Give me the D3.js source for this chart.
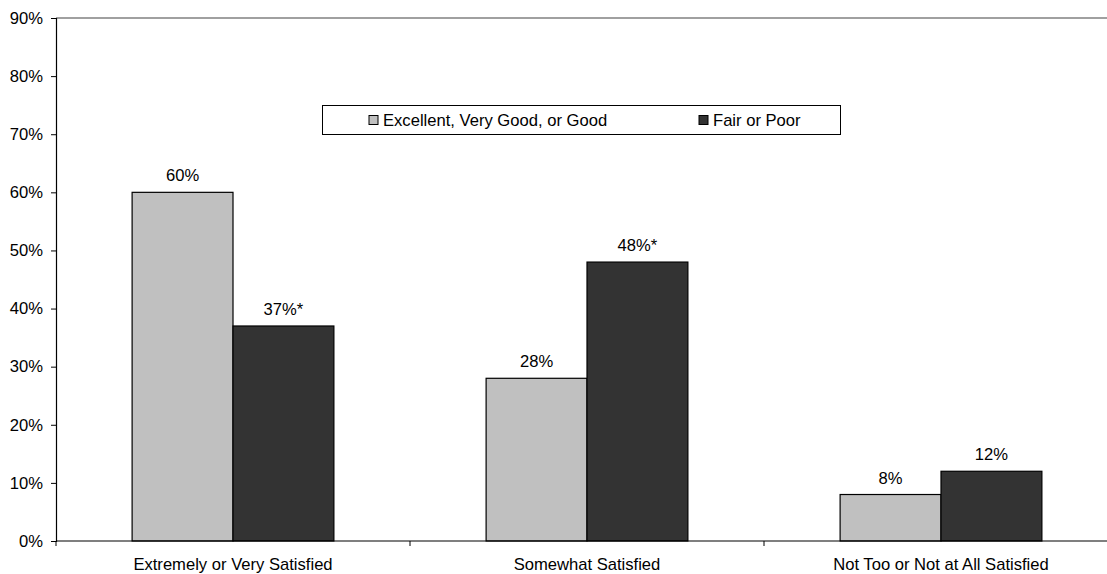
<!DOCTYPE html>
<html>
<head>
<meta charset="utf-8">
<script src="https://cdn.jsdelivr.net/npm/d3@7"></script>
<style>
  html, body { margin: 0; padding: 0; background: #fff; }
  svg { display: block; font-family: "Liberation Sans", Arial, sans-serif; }
</style>
</head>
<body>
<svg id="chart" width="1107" height="574"></svg>
<script>
// Satisfaction by self-rated health status
const categories = ["Extremely or Very Satisfied", "Somewhat Satisfied", "Not Too or Not at All Satisfied"];
const seriesNames = ["Excellent, Very Good, or Good", "Fair or Poor"];
const goodHealth = [60, 28, 8];
const fairPoor = [37, 48, 12];
const valueLabels = [["60%", "28%", "8%"], ["37%*", "48%*", "12%"]];
const yTicks = [0, 10, 20, 30, 40, 50, 60, 70, 80, 90];
const colors = ["#c0c0c0", "#333333"];

const fontSize = 16.6;
const svg = d3.select("#chart");
const plotLeft = 56, plotTop = 18, plotBottom = 541, plotRight = 1118;

const x = d3.scaleBand().domain(categories).range([plotLeft, plotRight])
  .paddingInner(0.43).paddingOuter(0.215);
const xs = d3.scaleBand().domain(seriesNames).range([0, x.bandwidth()]);
const y = d3.scaleLinear().domain([0, 90]).range([plotBottom, plotTop]);

const series = [goodHealth, fairPoor];

// top border of plot area
svg.append("line")
  .attr("x1", plotLeft).attr("x2", 1107)
  .attr("y1", y(90)).attr("y2", y(90))
  .attr("stroke", "#808080").attr("stroke-width", 1.5);

// bars
series.forEach((vals, si) => {
  svg.append("g").selectAll("rect").data(vals).join("rect")
    .attr("x", (d, i) => x(categories[i]) + xs(seriesNames[si]))
    .attr("y", d => y(d))
    .attr("width", xs.bandwidth())
    .attr("height", d => y(0) - y(d))
    .attr("fill", colors[si])
    .attr("stroke", "#000").attr("stroke-width", 1.2);

  svg.append("g").selectAll("text").data(vals).join("text")
    .attr("x", (d, i) => x(categories[i]) + xs(seriesNames[si]) + xs.bandwidth() / 2)
    .attr("y", d => y(d) - 11)
    .attr("text-anchor", "middle")
    .attr("font-size", fontSize)
    .attr("fill", "#000")
    .text((d, i) => valueLabels[si][i]);
});

// y axis
const yAxis = svg.append("g").attr("transform", `translate(${plotLeft},0)`)
  .call(d3.axisLeft(y).tickValues(yTicks).tickFormat(d => d + "%").tickSize(5).tickPadding(8));
yAxis.select(".domain").attr("stroke", "#000").attr("stroke-width", 1.2);
yAxis.selectAll(".tick line").attr("stroke", "#000");
yAxis.selectAll(".tick text").attr("font-size", fontSize).attr("fill", "#000")
  .attr("font-family", "'Liberation Sans', Arial, sans-serif");

// x axis: category boundaries as tick marks
const boundaries = categories.map(c => x(c) - x.step() * x.paddingInner() / 2);
const xg = svg.append("g");
xg.append("line").attr("x1", plotLeft).attr("x2", 1107)
  .attr("y1", plotBottom).attr("y2", plotBottom)
  .attr("stroke", "#000").attr("stroke-width", 1.2);
xg.selectAll("line.tk").data(boundaries).join("line").attr("class", "tk")
  .attr("x1", d => d).attr("x2", d => d)
  .attr("y1", plotBottom).attr("y2", plotBottom + 5)
  .attr("stroke", "#000");
xg.selectAll("text").data(categories).join("text")
  .attr("x", d => x(d) + x.bandwidth() / 2)
  .attr("y", plotBottom + 29)
  .attr("text-anchor", "middle")
  .attr("font-size", fontSize)
  .attr("fill", "#000")
  .text(d => d);

// legend
const lg = svg.append("g");
lg.append("rect").attr("x", 322.5).attr("y", 105.5).attr("width", 518).attr("height", 29)
  .attr("fill", "#fff").attr("stroke", "#000").attr("stroke-width", 1);
const legendX = [369, 699];
seriesNames.forEach((name, i) => {
  lg.append("rect").attr("x", legendX[i]).attr("y", 115.5).attr("width", 9).attr("height", 9)
    .attr("fill", colors[i]).attr("stroke", "#000").attr("stroke-width", 1);
  lg.append("text").attr("x", legendX[i] + 14).attr("y", 126)
    .attr("font-size", fontSize).attr("fill", "#000").text(name);
});
</script>
</body>
</html>
